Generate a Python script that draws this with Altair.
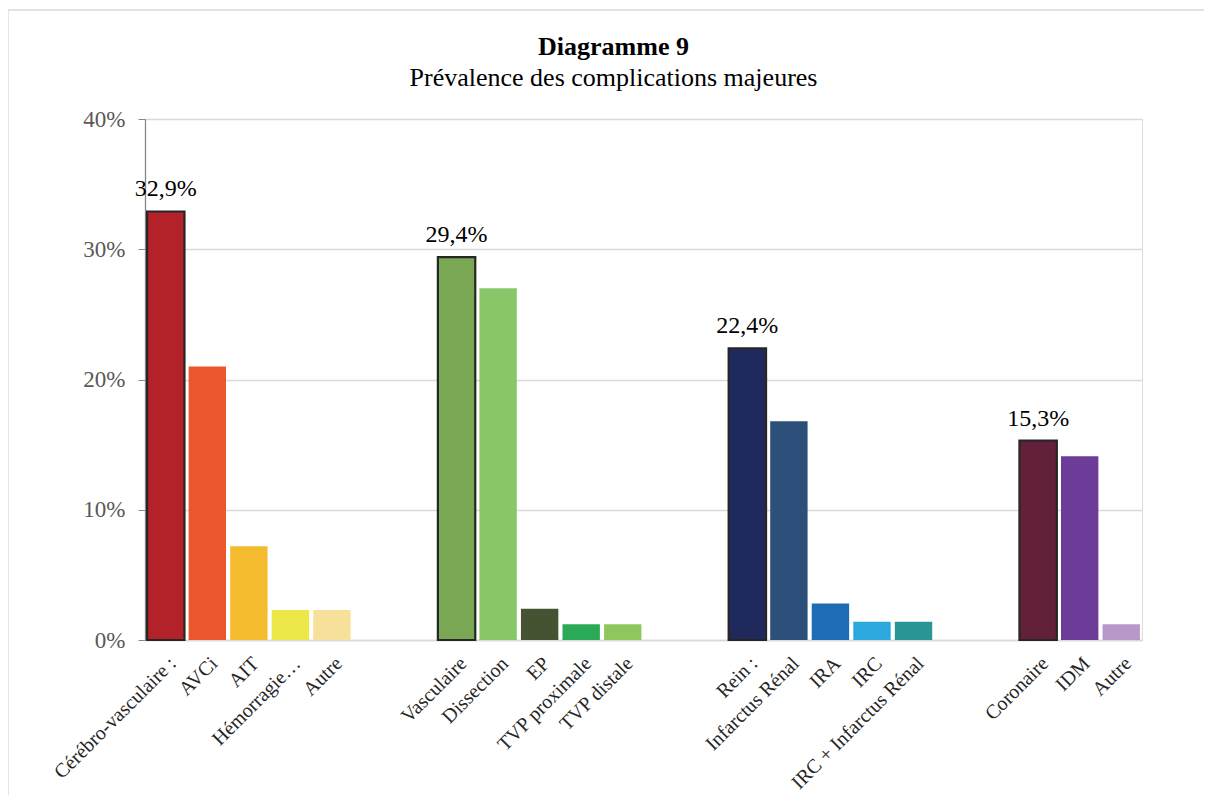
import altair as alt
import pandas as pd

# ---- data ----
slots = ["c0", "c1", "c2", "c3", "c4", "g0", "g1",
         "v0", "v1", "v2", "v3", "v4", "g2", "g3",
         "r0", "r1", "r2", "r3", "r4", "g4", "g5",
         "k0", "k1", "k2"]
keys = ["c0", "c1", "c2", "c3", "c4",
        "v0", "v1", "v2", "v3", "v4",
        "r0", "r1", "r2", "r3", "r4",
        "k0", "k1", "k2"]
labels = ["Cérébro-vasculaire :", "AVCi", "AIT", "Hémorragie…", "Autre",
          "Vasculaire", "Dissection", "EP", "TVP proximale", "TVP distale",
          "Rein :", "Infarctus Rénal", "IRA", "IRC", "IRC + Infarctus Rénal",
          "Coronaire", "IDM", "Autre"]
values = [32.9, 21.0, 7.2, 2.3, 2.3,
          29.4, 27.0, 2.4, 1.2, 1.2,
          22.4, 16.8, 2.8, 1.4, 1.4,
          15.3, 14.1, 1.2]
headers = [True, False, False, False, False,
           True, False, False, False, False,
           True, False, False, False, False,
           True, False, False]
colors = ["#b22228", "#ec562c", "#f5bb2e", "#ede84a", "#f7e19a",
          "#7aa753", "#88c767", "#465332", "#2aa957", "#8fc75e",
          "#20295c", "#2c5079", "#1d6cb5", "#2da8de", "#299695",
          "#63203a", "#6d3b98", "#b898c8"]

df = pd.DataFrame({"key": keys, "label": labels, "value": values, "header": headers})

FONT = "Liberation Serif"
W, H = 997, 521

label_map = "{" + ",".join(f"'{k}':'{l}'" for k, l in zip(keys, labels)) + "}"
label_expr = f"{label_map}[datum.value] || ''"

x_enc = alt.X("key:N", sort=slots,
              scale=alt.Scale(domain=slots, paddingInner=0.1, paddingOuter=0.05),
              axis=alt.Axis(title=None, labelAngle=-45, labelExpr=label_expr,
                            labelFont=FONT, labelFontSize=20, labelColor="#262626",
                            ticks=False, labelPadding=13, domainColor="#d9d9d9",
                            domainWidth=1.5, labelLimit=400))
y_enc = alt.Y("value:Q",
              scale=alt.Scale(domain=[0, 40], nice=False),
              axis=alt.Axis(title=None, values=[0, 10, 20, 30, 40],
                            labelExpr="datum.value + '%'", labelFont=FONT,
                            labelFontSize=23, labelColor="#595959",
                            gridColor="#d9d9d9", gridWidth=1.3,
                            domainColor="#888888", domainWidth=1.3,
                            tickColor="#888888", tickSize=7, labelPadding=13))

base = alt.Chart(df)

bars = base.mark_bar().encode(
    x=x_enc,
    y=y_enc,
    color=alt.Color("key:N", scale=alt.Scale(domain=keys, range=colors), legend=None),
    stroke=alt.condition("datum.header", alt.value("#262626"), alt.value(None)),
    strokeWidth=alt.condition("datum.header", alt.value(2.2), alt.value(0)),
)

text = base.transform_filter("datum.header").transform_calculate(
    txt="replace(format(datum.value, '.1f'), '.', ',') + '%'"
).mark_text(font=FONT, fontSize=24, color="#000000", baseline="bottom", dy=-10).encode(
    x=alt.X("key:N", sort=slots),
    y="value:Q",
    text="txt:N",
)

# light page frame (left and top edges visible, the rest runs off the picture)
frame = alt.Chart(alt.Data(values=[{"a": 1}])).mark_rect(
    fillOpacity=0, stroke="#d9d9d9", strokeWidth=1.3
).encode(
    x=alt.value(-137), x2=alt.value(1120), y=alt.value(-109), y2=alt.value(700)
)

chart = alt.layer(frame, bars, text).properties(
    width=W, height=H,
    title=alt.TitleParams(
        "Diagramme 9",
        subtitle="Prévalence des complications majeures",
        font=FONT, fontSize=26, fontWeight="bold", color="#000000",
        subtitleFont=FONT, subtitleFontSize=26, subtitleColor="#000000",
        subtitlePadding=5, anchor="middle", frame="group", dx=-30, offset=-82,
    ),
    autosize=alt.AutoSizeParams(type="none"),
    padding={"left": 137, "top": 111, "right": 62, "bottom": 155},
).configure_view(stroke=None).configure(background="white")

chart.save("out.html", embed_options={"renderer": "svg", "actions": False})
